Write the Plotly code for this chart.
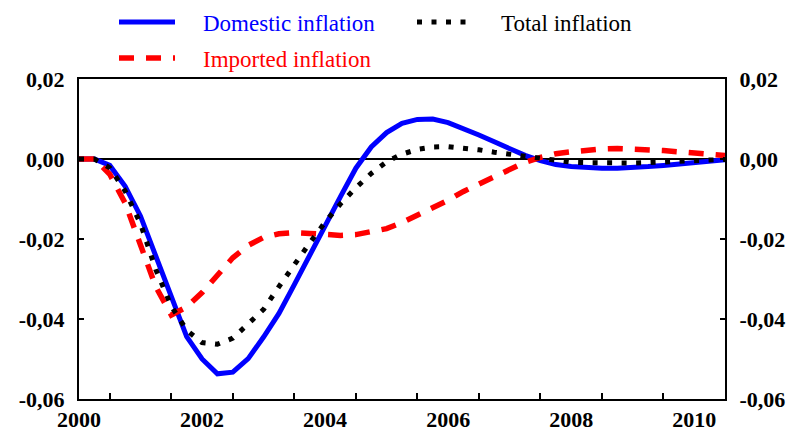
import plotly.graph_objects as go

# Quarterly periods, 2000Q1 .. 2010Q3
years = [2000 + 0.25 * k for k in range(43)]

domestic = [
    0.0, 0.0, -0.0016, -0.0068, -0.0143, -0.0243, -0.0351, -0.0444,
    -0.0500, -0.0537, -0.0533, -0.0499, -0.0445, -0.0386, -0.0314, -0.0239,
    -0.0164, -0.0094, -0.0023, 0.0030, 0.0066, 0.0089, 0.0099, 0.0100,
    0.0091, 0.0077, 0.0060, 0.0043, 0.0025, 0.0009, -0.0004, -0.0014,
    -0.0019, -0.0022, -0.0023, -0.0023, -0.0022, -0.0019, -0.0016, -0.0012,
    -0.0008, -0.0005, -0.0002,
]

total = [
    0.0, 0.0, -0.0022, -0.0080, -0.0162, -0.0277, -0.0368, -0.0428,
    -0.0459, -0.0463, -0.0448, -0.0413, -0.0376, -0.0319, -0.0262, -0.0210,
    -0.0158, -0.0112, -0.0072, -0.0036, -0.0007, 0.0012, 0.0024, 0.0030,
    0.0031, 0.0028, 0.0023, 0.0017, 0.0012, 0.0007, 0.0001, -0.0005,
    -0.0008, -0.0009, -0.0010, -0.0010, -0.0010, -0.0009, -0.0008, -0.0007,
    -0.0005, -0.0003, -0.0001,
]

imported = [
    0.0, 0.0, -0.0038, -0.0110, -0.0215, -0.0320, -0.0390, -0.0370,
    -0.0334, -0.0293, -0.0247, -0.0216, -0.0196, -0.0187, -0.0184, -0.0186,
    -0.0190, -0.0191, -0.0189, -0.0183, -0.0174, -0.0159, -0.0141, -0.0123,
    -0.0103, -0.0081, -0.0063, -0.0044, -0.0025, -0.0008, 0.0004, 0.0013,
    0.0018, 0.0022, 0.0025, 0.0026, 0.0025, 0.0023, 0.0021, 0.0018,
    0.0016, 0.0012, 0.0009,
]

x_label_vals = [2000, 2002, 2004, 2006, 2008, 2010]
x_label_text = ["2000", "2002", "2004", "2006", "2008", "2010"]
x_tick_vals = [2000.5 + k for k in range(10)]
y_tick_vals = [-0.06, -0.04, -0.02, 0.0, 0.02]
y_tick_text = ["-0,06", "-0,04", "-0,02", "0,00", "0,02"]

SERIF = "Times New Roman, Liberation Serif, DejaVu Serif, serif"
PAD = "\u00a0" * 4  # extra space between legend symbol and its label

fig = go.Figure()
fig.add_trace(go.Scatter(
    x=years, y=domestic, mode="lines", name=PAD + "Domestic inflation",
    line=dict(color="#0000ff", width=5), legend="legend",
))
fig.add_trace(go.Scatter(
    x=years, y=imported, mode="lines", name=PAD + "Imported inflation",
    line=dict(color="#ff0000", width=5.5, dash="15px,12px"), legend="legend2",
))
fig.add_trace(go.Scatter(
    x=years, y=total, mode="lines", name=PAD + "Total inflation",
    line=dict(color="#000000", width=5, dash="5px,9.5px"), legend="legend3",
))
# right-hand axis carries the same scale
fig.add_trace(go.Scatter(
    x=[years[0]], y=[0], yaxis="y2", mode="markers",
    marker=dict(opacity=0), showlegend=False, hoverinfo="skip",
))

axis_common = dict(
    showgrid=False, showline=True, linecolor="black", linewidth=2,
    automargin=False,
)

legend_common = dict(
    xref="container", yref="container", yanchor="middle",
    bgcolor="rgba(0,0,0,0)", itemwidth=56, orientation="h",
)

tick_font = dict(family=SERIF, size=22, color="black", weight="bold")

fig.update_layout(
    width=791, height=431,
    margin=dict(l=79, r=66, t=79, b=32, autoexpand=False),
    paper_bgcolor="white", plot_bgcolor="white",
    font=dict(family=SERIF, size=22, color="black"),
    xaxis=dict(
        **axis_common, mirror=True, range=[2000, 2010.5],
        tickvals=x_label_vals, ticktext=x_label_text, ticks="",
        tickfont=tick_font,
        minor=dict(tickvals=x_tick_vals, ticks="inside", ticklen=6,
                   tickwidth=1.5, tickcolor="black"),
        zeroline=False,
    ),
    yaxis=dict(
        **axis_common, mirror=True, range=[-0.06, 0.02],
        tickvals=y_tick_vals, ticktext=y_tick_text,
        ticks="inside", ticklen=5, tickwidth=1.5, tickcolor="black",
        tickfont=tick_font,
        zeroline=True, zerolinecolor="black", zerolinewidth=1.5,
        ticklabelstandoff=8,
    ),
    yaxis2=dict(
        **axis_common, overlaying="y", side="right", range=[-0.06, 0.02],
        tickvals=y_tick_vals, ticktext=y_tick_text,
        ticks="inside", ticklen=5, tickwidth=1.5, tickcolor="black",
        tickfont=tick_font,
        zeroline=False, ticklabelstandoff=8,
    ),
    legend=dict(**legend_common, x=114 / 791, y=1 - 22 / 431,
                font=dict(family=SERIF, size=23, color="#0000ff")),
    legend2=dict(**legend_common, x=114 / 791, y=1 - 58 / 431,
                 font=dict(family=SERIF, size=23, color="#ff0000")),
    legend3=dict(**legend_common, x=412 / 791, y=1 - 22 / 431,
                 font=dict(family=SERIF, size=23, color="#000000")),
    showlegend=True,
)

fig.write_html("out.html")
